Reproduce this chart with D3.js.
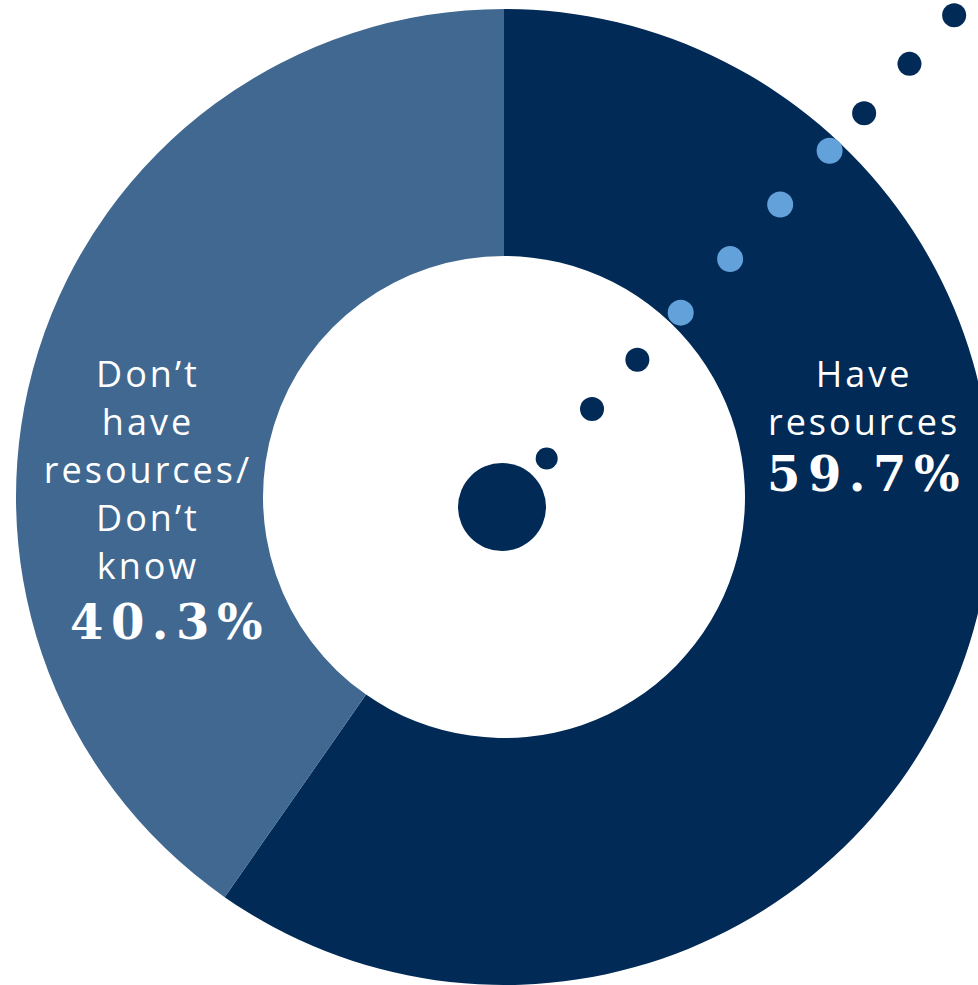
<!DOCTYPE html>
<html>
<head>
<meta charset="utf-8">
<script src="https://cdn.jsdelivr.net/npm/d3@7"></script>
<style>
  html, body { margin: 0; padding: 0; background: #fff; }
  svg { display: block; }
</style>
</head>
<body>
<div id="chart"></div>
<script>
// data
const categories = ["Have resources", "Don't have resources/Don't know"];
const values = [59.7, 40.3];
const labelLines = [["Have", "resources"], ["Don\u2019t", "have", "resources/", "Don\u2019t", "know"]];
const pctLabels = ["59.7%", "40.3%"];

// decorative dotted pointer (distance from the hub, radius, light or dark)
const dotDist = [66, 133, 200, 264, 337, 411, 484, 535, 602, 668];
const dotR = [11, 12, 12, 13, 13, 13, 13, 12, 12, 12];
const dotLight = [0, 0, 0, 1, 1, 1, 1, 0, 0, 0];

const width = 978, height = 985;
const cx = 504, cy = 497;
const outerR = 488, innerR = 241;

const colors = ["#012a56", "#406890"];
const lightDot = "#62a1da";

const svg = d3.select("#chart")
  .append("svg")
  .attr("width", width)
  .attr("height", height);

const g = svg.append("g").attr("transform", `translate(${cx},${cy})`);

const pie = d3.pie().sort(null).value(d => d);
const arc = d3.arc().innerRadius(innerR).outerRadius(outerR);

g.selectAll("path.slice")
  .data(pie(values))
  .enter()
  .append("path")
  .attr("class", "slice")
  .attr("d", arc)
  .attr("fill", (d, i) => colors[i]);

// hub + dotted line
const hub = { x: -2, y: 10, r: 44 };
const ang = 47.4 * Math.PI / 180;
const along = d3.scaleLinear().domain([0, 1]).range([0, 1]);

g.append("circle")
  .attr("cx", hub.x)
  .attr("cy", hub.y)
  .attr("r", hub.r)
  .attr("fill", colors[0]);

g.selectAll("circle.dot")
  .data(dotDist)
  .enter()
  .append("circle")
  .attr("class", "dot")
  .attr("cx", d => hub.x + along(d) * Math.cos(ang))
  .attr("cy", d => hub.y - along(d) * Math.sin(ang))
  .attr("r", (d, i) => dotR[i])
  .attr("fill", (d, i) => dotLight[i] ? lightDot : colors[0]);

// labels
const labelPos = [
  { x: 864, y: 387, pctX: 867, pctY: 491 },
  { x: 148, y: 387, pctX: 170, pctY: 639 }
];
const lineH = 48;

labelLines.forEach((lines, i) => {
  const p = labelPos[i];
  const t = svg.append("text")
    .attr("text-anchor", "middle")
    .attr("fill", "#ffffff")
    .style("font-family", "'Open Sans', 'DejaVu Sans', sans-serif")
    .style("font-weight", 400)
    .style("font-size", "36px")
    .style("letter-spacing", "3px");
  lines.forEach((ln, j) => {
    t.append("tspan")
      .attr("x", p.x)
      .attr("y", p.y + j * lineH)
      .text(ln);
  });
  svg.append("text")
    .attr("x", p.pctX)
    .attr("y", p.pctY)
    .attr("text-anchor", "middle")
    .attr("fill", "#ffffff")
    .style("font-family", "'DejaVu Serif', serif")
    .style("font-weight", "bold")
    .style("font-size", "48px")
    .style("letter-spacing", "7.5px")
    .text(pctLabels[i]);
});
</script>
</body>
</html>
